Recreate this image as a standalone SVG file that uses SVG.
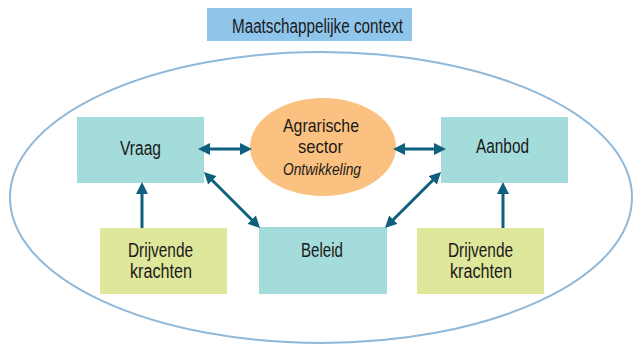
<svg xmlns="http://www.w3.org/2000/svg" width="633" height="345" viewBox="0 0 633 345">
<defs>
<style>
text{font-family:"Liberation Sans",Arial,sans-serif;font-size:20px;fill:#1a1a1a;text-anchor:middle}
.sm{font-size:19px}
.it{font-style:italic;font-size:17px}
.teal{fill:#a4dcdb}
.green{fill:#dfe79b}
.con line{stroke:#0f5f7e;stroke-width:3;fill:none}
</style>
<marker id="ah" viewBox="0 0 12 12" refX="6" refY="6" markerWidth="12" markerHeight="12" markerUnits="userSpaceOnUse" orient="auto-start-reverse">
<path d="M0,0 L12,6 L0,12 z" fill="#0f5f7e"/>
</marker>
</defs>
<rect width="633" height="345" fill="#ffffff"/>
<g id="context">
<ellipse cx="321" cy="197.5" rx="311" ry="145.5" fill="none" stroke="#90b8d8" stroke-width="2"/>
<rect x="207" y="8" width="205" height="33" fill="#8fc4eb"/>
<text x="317.5" y="33" textLength="171" lengthAdjust="spacingAndGlyphs">Maatschappelijke context</text>
</g>
<g id="vraag">
<rect class="teal" x="77" y="117" width="127" height="66"/>
<text x="140.5" y="155" textLength="41" lengthAdjust="spacingAndGlyphs">Vraag</text>
</g>
<g id="agrarische-sector">
<ellipse cx="323" cy="147" rx="73" ry="49" fill="#fbc180"/>
<text class="sm" x="321" y="132" textLength="76" lengthAdjust="spacingAndGlyphs">Agrarische</text>
<text class="sm" x="320.5" y="153" textLength="45" lengthAdjust="spacingAndGlyphs">sector</text>
<text class="it" x="322" y="175" textLength="78" lengthAdjust="spacingAndGlyphs">Ontwikkeling</text>
</g>
<g id="aanbod">
<rect class="teal" x="441" y="117" width="127" height="66"/>
<text x="502.5" y="153" textLength="53" lengthAdjust="spacingAndGlyphs">Aanbod</text>
</g>
<g id="drijvende-links">
<rect class="green" x="100" y="228" width="127" height="66"/>
<text x="160.5" y="257" textLength="65" lengthAdjust="spacingAndGlyphs">Drijvende</text>
<text x="161" y="278" textLength="62" lengthAdjust="spacingAndGlyphs">krachten</text>
</g>
<g id="beleid">
<rect class="teal" x="259" y="227" width="128" height="67"/>
<text x="322" y="257" textLength="42" lengthAdjust="spacingAndGlyphs">Beleid</text>
</g>
<g id="drijvende-rechts">
<rect class="green" x="417" y="228" width="127" height="66"/>
<text x="480.5" y="257" textLength="65" lengthAdjust="spacingAndGlyphs">Drijvende</text>
<text x="481" y="278" textLength="62" lengthAdjust="spacingAndGlyphs">krachten</text>
</g>
<g id="connectors" class="con">
<line x1="204" y1="149" x2="246" y2="149" marker-start="url(#ah)" marker-end="url(#ah)"/>
<line x1="399" y1="149" x2="440" y2="149" marker-start="url(#ah)" marker-end="url(#ah)"/>
<line x1="208.2" y1="176.2" x2="255.8" y2="223.8" marker-start="url(#ah)" marker-end="url(#ah)"/>
<line x1="436.8" y1="176.2" x2="389.2" y2="223.8" marker-start="url(#ah)" marker-end="url(#ah)"/>
<line x1="142" y1="228" x2="142" y2="188" marker-end="url(#ah)"/>
<line x1="503" y1="228" x2="503" y2="188" marker-end="url(#ah)"/>
</g>
</svg>
